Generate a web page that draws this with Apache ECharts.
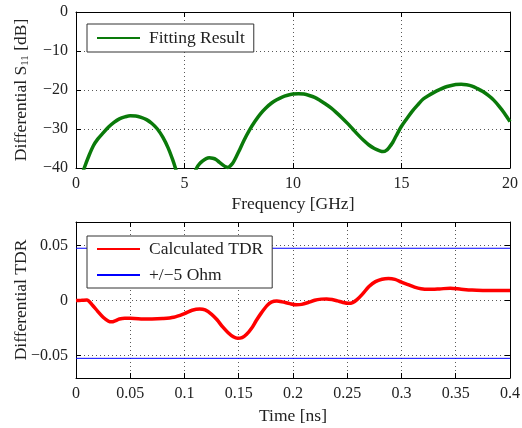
<!DOCTYPE html>
<html><head><meta charset="utf-8">
<script src="https://cdn.jsdelivr.net/npm/echarts@6/dist/echarts.min.js"></script>
<style>html,body{margin:0;padding:0;background:#fff}#c{width:522px;height:428px}</style>
</head><body><div id="c"></div>
<script>
// Top panel: differential S11 fitting result (null = gap where curve dips below -40 dB)
const freq = [0.2, 0.38, 0.6, 0.8, 1.0, 1.25, 1.5, 1.75, 2.0, 2.25, 2.5, 2.75, 3.0, 3.25, 3.5, 3.75, 4.0, 4.25, 4.45, 4.58, 4.7,
  5.0,
  5.4, 5.56, 5.7, 5.84, 6.0, 6.14, 6.3, 6.45, 6.6, 6.76, 6.9, 7.0, 7.1, 7.22, 7.35, 7.5, 7.75, 8.0, 8.25, 8.5, 8.75, 9.0, 9.25, 9.5, 9.75, 10.0, 10.25, 10.5, 10.75, 11.0, 11.25, 11.5, 11.75, 12.0, 12.25, 12.5, 12.75, 13.0, 13.25, 13.5, 13.75, 14.0, 14.15, 14.3, 14.45, 14.6, 14.75, 15.0, 15.25, 15.5, 15.75, 16.0, 16.25, 16.5, 16.75, 17.0, 17.25, 17.5, 17.75, 18.0, 18.25, 18.5, 18.75, 19.0, 19.25, 19.5, 19.75, 20.0];
const s11 = [-43, -40, -36.8, -34.3, -32.6, -31.0, -29.5, -28.3, -27.4, -26.9, -26.6, -26.65, -27.0, -27.6, -28.6, -30.0, -32.1, -34.9, -37.8, -40, -42.5,
  null,
  -42.5, -40, -38.9, -38.2, -37.6, -37.4, -37.5, -37.8, -38.5, -39.2, -39.7, -39.85, -39.5, -38.8, -37.5, -35.8, -32.8, -30.2, -28.0, -26.1, -24.6, -23.4, -22.5, -21.8, -21.35, -21.05, -20.95, -21.05, -21.4, -21.9, -22.7, -23.6, -24.6, -25.8, -27.1, -28.5, -30.0, -31.5, -32.9, -34.1, -35.0, -35.6, -35.8, -35.5, -34.6, -33.4, -31.8, -29.3, -27.3, -25.4, -23.8, -22.3, -21.4, -20.6, -19.9, -19.3, -18.9, -18.6, -18.5, -18.65, -19.0, -19.65, -20.4, -21.4, -22.6, -24.2, -26.0, -28.1];
// Bottom panel: calculated TDR
const time = [0, 0.005, 0.01, 0.015, 0.02, 0.025, 0.03, 0.033, 0.036, 0.04, 0.045, 0.05, 0.06, 0.07, 0.08, 0.09, 0.1, 0.107, 0.114, 0.119, 0.125, 0.13, 0.135, 0.14, 0.145, 0.149, 0.153, 0.157, 0.162, 0.166, 0.171, 0.176, 0.18, 0.185, 0.19, 0.197, 0.203, 0.208, 0.214, 0.22, 0.226, 0.231, 0.236, 0.241, 0.246, 0.251, 0.255, 0.259, 0.264, 0.27, 0.276, 0.282, 0.288, 0.294, 0.3, 0.306, 0.312, 0.318, 0.325, 0.335, 0.345, 0.355, 0.365, 0.375, 0.39, 0.4];
const tdr = [0, 0.0002, 0.0005, -0.004, -0.0098, -0.0152, -0.0188, -0.0194, -0.0185, -0.0168, -0.016, -0.0162, -0.0168, -0.0168, -0.0164, -0.0152, -0.0118, -0.0088, -0.0076, -0.0085, -0.0125, -0.0175, -0.0238, -0.029, -0.033, -0.0344, -0.0338, -0.031, -0.025, -0.0184, -0.011, -0.0046, -0.0015, -0.0005, -0.0012, -0.0028, -0.0038, -0.0035, -0.0018, 0.0003, 0.0013, 0.0015, 0.0009, -0.0003, -0.0017, -0.0025, -0.0018, 0.0008, 0.0058, 0.0128, 0.0172, 0.0194, 0.0201, 0.0193, 0.0168, 0.0145, 0.0122, 0.0107, 0.0102, 0.0106, 0.0112, 0.0103, 0.0095, 0.0092, 0.0091, 0.0091];
const ohmLimits = [0.0476, -0.0526];
const tdrTicks = [-0.05, 0, 0.05];

const FONT = '"Liberation Serif", "DejaVu Serif", serif';
const TXT = '#222';
const minus = v => String(v).replace('-', '\u2212');
const fmtT = v => { if (v === 0) return '0'; return minus(+v.toFixed(2)); };

const axisLine = {show: true, onZero: false, lineStyle: {color: '#000', width: 1}};
const tickIn = {show: true, inside: true, length: 5, lineStyle: {color: '#000'}};
const dotted = {show: true, lineStyle: {color: '#000', type: [1, 3], width: 1, opacity: 0.65}};
const lab = (fmt) => ({show: true, fontFamily: FONT, fontSize: 16, color: TXT, margin: 8, formatter: fmt});
const nameStyle = {fontFamily: FONT, fontSize: 17.5, color: TXT};
const legendCommon = {orient: 'vertical', backgroundColor: '#fff', borderColor: '#333', borderWidth: 1, borderRadius: 0, itemWidth: 43, itemHeight: 14, itemStyle: {opacity: 0, borderWidth: 0}, textStyle: {fontFamily: FONT, fontSize: 17.5, color: TXT, padding: [0, 0, 0, 4]}};

const c = echarts.init(document.getElementById('c'), null, {renderer: 'canvas'});
c.setOption({
  backgroundColor: '#fff',
  animation: false,
  grid: [
    {left: 76, right: 12, top: 12, height: 156, containLabel: false, outerBoundsMode: 'none'},
    {left: 76, right: 12, top: 222, height: 156, containLabel: false, outerBoundsMode: 'none'}
  ],
  legend: [
    Object.assign({data: ['Fitting Result'], left: 87, top: 24, padding: [5, 9, 5, 9]}, legendCommon),
    Object.assign({data: ['Calculated TDR', '+/\u22125 Ohm'], left: 87, top: 236, padding: [4, 9, 4, 9], itemGap: 8}, legendCommon)
  ],
  xAxis: [
    {type: 'value', gridIndex: 0, min: 0, max: 20, interval: 5, position: 'bottom', axisLine, axisTick: tickIn, splitLine: dotted, axisLabel: lab(v => String(v)), name: 'Frequency [GHz]', nameLocation: 'middle', nameGap: 27, nameMoveOverlap: false, nameTextStyle: nameStyle},
    {type: 'value', gridIndex: 0, min: 0, max: 20, interval: 5, position: 'top', axisLine, axisTick: tickIn, splitLine: {show: false}, axisLabel: {show: false}},
    {type: 'value', gridIndex: 1, min: 0, max: 0.4, interval: 0.05, position: 'bottom', axisLine, axisTick: tickIn, splitLine: dotted, axisLabel: lab(fmtT), name: 'Time [ns]', nameLocation: 'middle', nameGap: 29, nameMoveOverlap: false, nameTextStyle: nameStyle},
    {type: 'value', gridIndex: 1, min: 0, max: 0.4, interval: 0.05, position: 'top', axisLine, axisTick: tickIn, splitLine: {show: false}, axisLabel: {show: false}}
  ],
  yAxis: [
    {type: 'value', gridIndex: 0, min: -40, max: 0, interval: 10, position: 'left', axisLine, axisTick: tickIn, splitLine: dotted, axisLabel: lab(v => minus(v)), name: 'Differential S{sub|11} [dB]', nameLocation: 'middle', nameGap: 45, nameMoveOverlap: false, nameTextStyle: Object.assign({}, nameStyle, {rich: {sub: {fontFamily: FONT, fontSize: 11, color: TXT, verticalAlign: 'bottom', padding: [9, 0, 0, 0]}}})},
    {type: 'value', gridIndex: 0, min: -40, max: 0, interval: 10, position: 'right', axisLine, axisTick: tickIn, splitLine: {show: false}, axisLabel: {show: false}},
    {type: 'value', gridIndex: 1, min: -0.0705, max: 0.0715, position: 'left', axisLine, axisTick: Object.assign({}, tickIn, {customValues: tdrTicks}), splitLine: dotted, axisLabel: Object.assign(lab(fmtT), {customValues: tdrTicks}), name: 'Differential TDR', nameLocation: 'middle', nameGap: 46, nameMoveOverlap: false, nameTextStyle: nameStyle},
    {type: 'value', gridIndex: 1, min: -0.0705, max: 0.0715, position: 'right', axisLine, axisTick: Object.assign({}, tickIn, {customValues: tdrTicks}), splitLine: {show: false}, axisLabel: {show: false}}
  ],
  series: [
    {name: 'Fitting Result', type: 'line', xAxisIndex: 0, yAxisIndex: 0, symbol: 'none', smooth: 0.3, clip: true, connectNulls: false,
     lineStyle: {color: '#0a7a0a', width: 3.5}, itemStyle: {color: '#0a7a0a'},
     data: freq.map((f, i) => [f, s11[i] === null ? '-' : s11[i]])},
    {name: 'Calculated TDR', type: 'line', xAxisIndex: 2, yAxisIndex: 2, symbol: 'none', smooth: 0.3, clip: true,
     lineStyle: {color: '#ff0000', width: 3.5}, itemStyle: {color: '#ff0000'},
     data: time.map((t, i) => [t, tdr[i]])},
    {name: '+/\u22125 Ohm', type: 'line', xAxisIndex: 2, yAxisIndex: 2, symbol: 'none',
     lineStyle: {color: '#0000ff', width: 1}, itemStyle: {color: '#0000ff'},
     data: [[0, ohmLimits[0]], [0.4, ohmLimits[0]]]},
    {name: '+/\u22125 Ohm', type: 'line', xAxisIndex: 2, yAxisIndex: 2, symbol: 'none',
     lineStyle: {color: '#0000ff', width: 1}, itemStyle: {color: '#0000ff'},
     data: [[0, ohmLimits[1]], [0.4, ohmLimits[1]]]}
  ]
});
</script></body></html>
